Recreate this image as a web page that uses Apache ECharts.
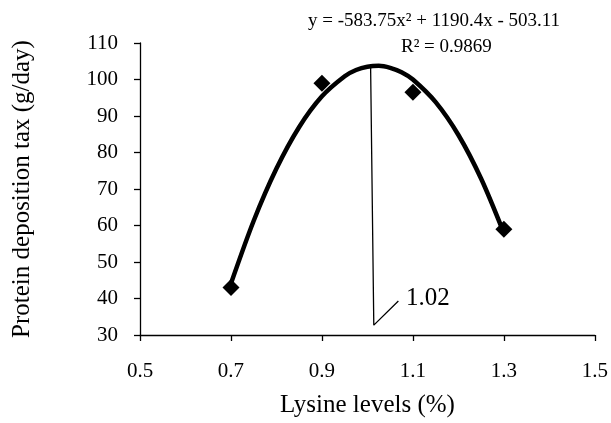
<!DOCTYPE html>
<html>
<head>
<meta charset="utf-8">
<script src="https://cdn.jsdelivr.net/npm/echarts@6/dist/echarts.min.js"></script>
<style>
  html, body { margin: 0; padding: 0; background: #fff; }
  #chart { width: 611px; height: 423px; }
</style>
</head>
<body>
<div id="chart"></div>
<script>
// observed points
const lysine = [0.7, 0.9, 1.1, 1.3]
const deposition = [43, 99, 96.5, 59]

// trendline
const curveX = [0.7, 0.75, 0.8, 0.85, 0.9, 0.95, 0.975, 1.0, 1.025, 1.05, 1.075, 1.1, 1.15, 1.2, 1.25, 1.3]
const curveY = [44.1, 61.3, 75.6, 87.0, 95.4, 100.9, 102.6, 103.5, 103.75, 103.2, 102.0, 100.0, 93.8, 84.8, 72.8, 57.9]

// leader line from the peak down to the "1.02" label
const leaderX = [1.007, 1.014, 1.068]
const leaderY = [103.2, 32.7, 39.3]

const equationText = 'y = -583.75x² + 1190.4x - 503.11'
const r2Text = 'R² = 0.9869'
const peakLabel = '1.02'

const serif = '"Liberation Serif", "Times New Roman", serif'
const zip = (xs, ys) => xs.map((x, i) => [x, ys[i]])

const chart = echarts.init(document.getElementById('chart'))

chart.setOption({
  animation: false,
  backgroundColor: '#fff',
  grid: { left: 140, right: 14, top: 43, bottom: 86 },
  xAxis: {
    type: 'value',
    min: 0.5,
    max: 1.5,
    interval: 0.2,
    name: 'Lysine levels (%)',
    nameLocation: 'middle',
    nameGap: 58,
    nameTextStyle: { fontFamily: serif, fontSize: 25, color: '#000' },
    axisLine: { lineStyle: { color: '#000', width: 1.3 } },
    axisTick: { length: 6, lineStyle: { color: '#000', width: 1.3 } },
    axisLabel: {
      margin: 26,
      fontFamily: serif,
      fontSize: 21,
      color: '#000',
      formatter: v => v.toFixed(1)
    },
    splitLine: { show: false }
  },
  yAxis: {
    type: 'value',
    min: 30,
    max: 110,
    interval: 10,
    name: 'Protein deposition tax (g/day)',
    nameLocation: 'middle',
    nameGap: 105,
    nameTextStyle: { fontFamily: serif, fontSize: 25, color: '#000' },
    axisLine: { show: true, lineStyle: { color: '#000', width: 1.3 } },
    axisTick: { show: true, length: 6, lineStyle: { color: '#000', width: 1.3 } },
    axisLabel: { margin: 22, fontFamily: serif, fontSize: 21, color: '#000' },
    splitLine: { show: false }
  },
  series: [
    {
      type: 'line',
      data: zip(curveX, curveY),
      smooth: 0.3,
      showSymbol: false,
      lineStyle: { color: '#000', width: 4.5 },
      z: 2
    },
    {
      type: 'scatter',
      data: zip(lysine, deposition),
      symbol: 'diamond',
      symbolSize: 17,
      itemStyle: { color: '#000', opacity: 1 },
      z: 3
    },
    {
      type: 'line',
      data: zip(leaderX, leaderY),
      showSymbol: false,
      lineStyle: { color: '#000', width: 1.3 },
      z: 4
    }
  ],
  graphic: [
    {
      type: 'text',
      left: 308,
      top: 12,
      style: { text: equationText, font: '19px ' + serif, fill: '#000' }
    },
    {
      type: 'text',
      left: 401,
      top: 38,
      style: { text: r2Text, font: '19px ' + serif, fill: '#000' }
    },
    {
      type: 'text',
      left: 406,
      top: 286,
      style: { text: peakLabel, font: '25px ' + serif, fill: '#000' }
    }
  ]
})
</script>
</body>
</html>
